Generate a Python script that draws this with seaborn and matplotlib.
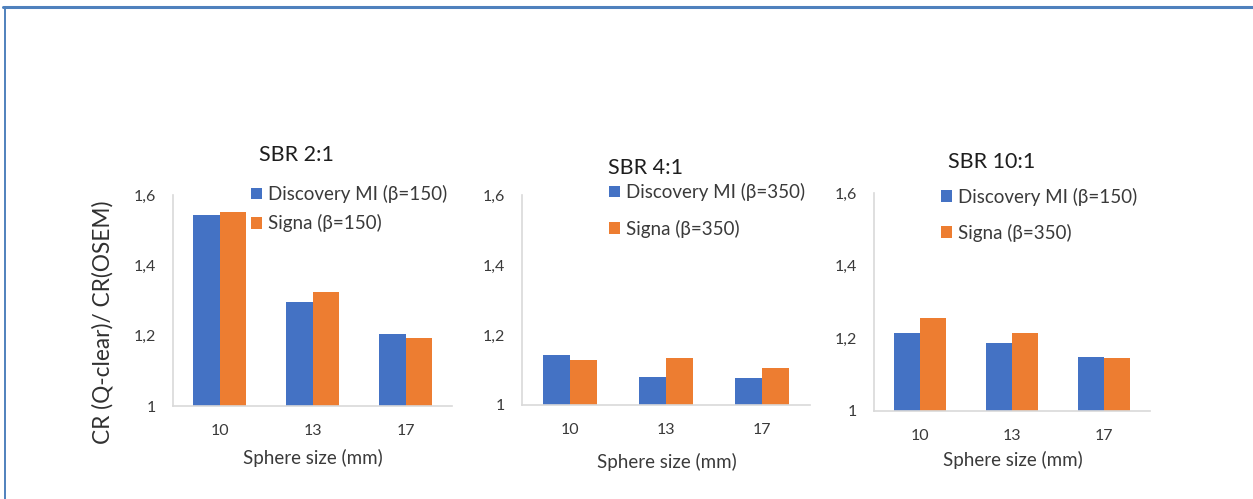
import matplotlib
matplotlib.use("Agg")
import matplotlib.pyplot as plt
from matplotlib.lines import Line2D
import pandas as pd
import seaborn as sns

# Sphere sizes (mm) on the x axis
sizes = ["10", "13", "17"]

# Panel titles (source-to-background ratio)
titles = ["SBR 2:1", "SBR 4:1", "SBR 10:1"]

# Series labels per panel
dmi_labels = ["Discovery MI (β=150)", "Discovery MI (β=350)", "Discovery MI (β=150)"]
signa_labels = ["Signa (β=150)", "Signa (β=350)", "Signa (β=350)"]

# CR(Q-clear) / CR(OSEM) ratios
dmi_sbr2 = [1.543, 1.295, 1.206]
signa_sbr2 = [1.552, 1.325, 1.192]
dmi_sbr4 = [1.143, 1.079, 1.076]
signa_sbr4 = [1.129, 1.133, 1.107]
dmi_sbr10 = [1.215, 1.186, 1.149]
signa_sbr10 = [1.256, 1.215, 1.146]

y_ticks = [1.0, 1.2, 1.4, 1.6]
y_ticklabels = ["1", "1,2", "1,4", "1,6"]

BLUE = "#4472C4"
ORANGE = "#ED7D31"
TEXT = "#3a3a3a"
AXIS = "#d9d9d9"

sns.set_theme(style="white")
plt.rcParams["font.family"] = ["Lato", "DejaVu Sans"]

W, H = 1253, 499
fig = plt.figure(figsize=(W / 100, H / 100), dpi=100)


def fx(px):
    return px / W


def fy(py):
    return 1 - py / H


# axes boxes in pixels: left, right, top (1.6), bottom (1.0)
boxes = [(173, 452, 195, 406), (522, 810, 195, 405), (874, 1150, 193, 410.7)]
title_pos = [(296, 155), (645, 168), (992, 162)]
legend_pos = [(251, 185, 0.6), (609, 183, 1.0), (941, 188, 0.95)]
xlabel_pos = [(313, 458), (667, 462), (1013, 460)]

series = [(dmi_sbr2, signa_sbr2), (dmi_sbr4, signa_sbr4), (dmi_sbr10, signa_sbr10)]

for i, ((l, r, t, b), (dmi, signa)) in enumerate(zip(boxes, series)):
    ax = fig.add_axes([fx(l), fy(b), fx(r - l), (b - t) / H])
    df = pd.DataFrame({
        "size": sizes * 2,
        "scanner": [dmi_labels[i]] * 3 + [signa_labels[i]] * 3,
        "ratio": dmi + signa,
    })
    sns.barplot(data=df, x="size", y="ratio", hue="scanner",
                palette=[BLUE, ORANGE], width=0.57, ax=ax,
                saturation=1, errorbar=None, legend=True, linewidth=0)
    ax.set_ylim(1.0, 1.6)
    ax.set_xlim(-0.5, 2.5)
    ax.set_yticks(y_ticks)
    ax.set_yticklabels(y_ticklabels)
    ax.tick_params(axis="both", length=0, labelsize=11.5, labelcolor=TEXT)
    ax.tick_params(axis="x", pad=13)
    ax.tick_params(axis="y", pad=12)
    ax.set_xlabel("")
    ax.set_ylabel("")
    for side in ["top", "right"]:
        ax.spines[side].set_visible(False)
    for side in ["left", "bottom"]:
        ax.spines[side].set_color(AXIS)
        ax.spines[side].set_linewidth(1.2)

    handles, labels = ax.get_legend_handles_labels()
    lx, ly, sp = legend_pos[i]
    ax.legend(handles, labels, loc="upper left",
              bbox_to_anchor=(fx(lx), fy(ly)), bbox_transform=fig.transFigure,
              frameon=False, borderpad=0, borderaxespad=0,
              handlelength=0.6, handleheight=0.6, handletextpad=0.3,
              labelspacing=sp, fontsize=13.5, labelcolor=TEXT)

    tx, ty = title_pos[i]
    fig.text(fx(tx), fy(ty), titles[i], ha="center", va="center",
             fontsize=15.5, color="#1e1e1e")
    xx, xy = xlabel_pos[i]
    fig.text(fx(xx), fy(xy), "Sphere size (mm)", ha="center", va="center",
             fontsize=13.5, color=TEXT)

fig.text(fx(103), fy(322), "CR (Q-clear)/ CR(OSEM)", rotation=90,
         ha="center", va="center", fontsize=16.3, color="#303030")

# blue frame along the top and left edges
frame = "#4F81BD"
fig.add_artist(Line2D([fx(3), 1.0], [fy(6.5), fy(6.5)], transform=fig.transFigure,
                      color=frame, linewidth=2.2))
fig.add_artist(Line2D([fx(5), fx(5)], [fy(6.5), 0.0], transform=fig.transFigure,
                      color=frame, linewidth=1.4))

fig.savefig("out.png", dpi=100, facecolor="white")
